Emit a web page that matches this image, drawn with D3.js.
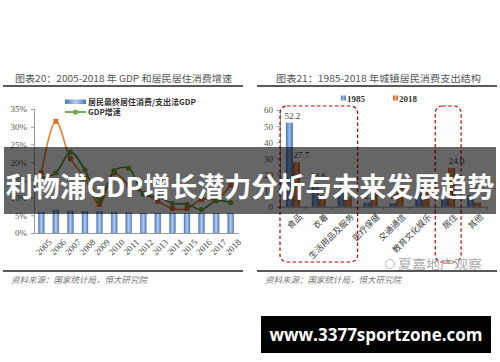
<!DOCTYPE html>
<html>
<head>
<meta charset="utf-8">
<script src="https://cdn.jsdelivr.net/npm/d3@7"></script>
<style>
  body { margin: 0; background: #fff; }
  svg { display: block; }
</style>
</head>
<body>
<div id="chart"></div>
<script>
// left chart data (图表20)
var years = ["2005","2006","2007","2008","2009","2010","2011","2012","2013","2014","2015","2016","2017","2018"];
var housingShare = [5.9, 6.5, 6.2, 6.1, 6.0, 5.9, 5.7, 5.6, 5.6, 5.6, 5.5, 5.6, 5.5, 5.6];
var housingGrowth = [17.0, 31.5, 21.0, 15.5, 8.1, 17.0, 13.6, 11.2, 9.0, 6.9, 6.9, 9.5, 9.5, 13.5];
var gdpGrowth = [15.5, 17.0, 22.8, 17.8, 9.3, 17.6, 18.3, 11.0, 10.2, 8.4, 8.1, 6.6, 9.1, 8.6];
var leftTicks = [0, 5, 10, 15, 20, 25, 30, 35];

// right chart data (图表21)
var categories = ["食品", "衣着", "生活用品及服务", "医疗保健", "交通通信", "教育文化娱乐", "居住", "其他"];
var share1985 = [52.2, 14.6, 8.6, 2.5, 2.1, 8.2, 4.8, 7.0];
var share2018 = [27.7, 6.9, 6.2, 7.8, 13.3, 11.4, 24.0, 2.6];
var rightTicks = [0, 10, 20, 30, 40, 50, 60];
var label2018 = ["食品", "居住"];
var boxedGroups = [["食品", "生活用品及服务"], ["居住", "居住"]];

var serif = "'Liberation Serif', 'DejaVu Serif', serif";
var cjk = "'Noto Sans CJK SC', sans-serif";

var svg = d3.select("#chart").append("svg")
  .attr("width", 500)
  .attr("height", 362);

var defs = svg.append("defs");
function hGrad(id, edge, mid) {
  var g = defs.append("linearGradient").attr("id", id)
    .attr("x1", "0%").attr("x2", "100%").attr("y1", "0%").attr("y2", "0%");
  g.append("stop").attr("offset", "0%").attr("stop-color", edge);
  g.append("stop").attr("offset", "50%").attr("stop-color", mid);
  g.append("stop").attr("offset", "100%").attr("stop-color", edge);
}
hGrad("gBlueL", "#4a78bd", "#b7cdee");
hGrad("gBlue", "#4572c2", "#9dbbe8");
hGrad("gOrange", "#c5642c", "#f3a46c");

// ---------- titles / rules ----------
svg.append("text")
  .attr("x", 15).attr("y", 82)
  .attr("textLength", 217).attr("lengthAdjust", "spacingAndGlyphs")
  .style("font-family", cjk).style("font-size", "9.5px").style("fill", "#555")
  .text("图表20：2005-2018 年 GDP 和居民居住消费增速");
svg.append("text")
  .attr("x", 276).attr("y", 82)
  .attr("textLength", 205).attr("lengthAdjust", "spacingAndGlyphs")
  .style("font-family", cjk).style("font-size", "9.5px").style("fill", "#555")
  .text("图表21：1985-2018 年城镇居民消费支出结构");

[[3, 243], [257, 497]].forEach(function(r) {
  svg.append("line").attr("x1", r[0]).attr("x2", r[1]).attr("y1", 86).attr("y2", 86)
    .attr("stroke", "#222").attr("stroke-width", 1.5);
  svg.append("line").attr("x1", r[0]).attr("x2", r[1]).attr("y1", 271).attr("y2", 271)
    .attr("stroke", "#222").attr("stroke-width", 1.5);
  svg.append("text").attr("x", r[0] + 8).attr("y", 283)
    .style("font-family", cjk).style("font-size", "8.5px").style("font-style", "italic")
    .style("fill", "#777")
    .text("资料来源：国家统计局，恒大研究院");
});

// ---------- left chart ----------
var xL = d3.scaleBand().domain(years).range([34, 238]);
var yL = d3.scaleLinear().domain([0, 35]).range([233, 109]);
var left = svg.append("g");

left.append("g")
  .attr("transform", "translate(34,0)")
  .call(d3.axisLeft(yL).tickValues(leftTicks).tickSize(3).tickFormat(d => d + "%"))
  .call(g => g.select(".domain").attr("stroke", "#999"))
  .call(g => g.selectAll(".tick line").attr("stroke", "#999"))
  .call(g => g.selectAll("text").attr("x", -7)
    .style("font-family", serif).style("font-size", "9px").style("fill", "#555"));

left.selectAll(".barL")
  .data(housingShare)
  .enter()
  .append("rect")
  .attr("x", (d, i) => xL(years[i]) + xL.bandwidth() / 2 - 3)
  .attr("y", d => yL(d))
  .attr("width", 6)
  .attr("height", d => yL(0) - yL(d))
  .attr("fill", "url(#gBlueL)")
  .attr("stroke", "#5b86c6").attr("stroke-width", 0.4);

left.append("g")
  .attr("transform", "translate(0,233)")
  .call(d3.axisBottom(xL).tickSize(0))
  .call(g => g.select(".domain").attr("stroke", "#999"))
  .call(g => g.selectAll("text")
    .attr("text-anchor", "end")
    .attr("transform", "translate(5,4) rotate(-45)")
    .attr("dy", "0.6em")
    .style("font-family", serif).style("font-size", "9px").style("fill", "#444"));

var lineL = d3.line()
  .x((d, i) => xL(years[i]) + xL.bandwidth() / 2)
  .y(d => yL(d))
  .curve(d3.curveCatmullRom.alpha(0.5));

left.append("path").datum(housingGrowth)
  .attr("d", lineL).attr("fill", "none")
  .attr("stroke", "#ed7d31").attr("stroke-width", 1.6);
left.selectAll(".sq").data(housingGrowth).enter().append("rect")
  .attr("x", (d, i) => xL(years[i]) + xL.bandwidth() / 2 - 2.5)
  .attr("y", d => yL(d) - 2.5)
  .attr("width", 5).attr("height", 5)
  .attr("fill", "#e0702a");

left.append("path").datum(gdpGrowth)
  .attr("d", lineL).attr("fill", "none")
  .attr("stroke", "#5f8f3a").attr("stroke-width", 1.6);
left.selectAll(".dot").data(gdpGrowth).enter().append("circle")
  .attr("cx", (d, i) => xL(years[i]) + xL.bandwidth() / 2)
  .attr("cy", d => yL(d))
  .attr("r", 2.6)
  .attr("fill", "#76a845");

// left legend
left.append("rect").attr("x", 65).attr("y", 99.5).attr("width", 21).attr("height", 4.5)
  .attr("fill", "url(#gBlueL)");
left.append("text").attr("x", 88).attr("y", 104.5)
  .style("font-family", cjk).style("font-size", "8px").style("font-weight", "bold").style("fill", "#333")
  .text("居民最终居住消费/支出法GDP");
left.append("line").attr("x1", 65).attr("x2", 86).attr("y1", 112).attr("y2", 112)
  .attr("stroke", "#5f8f3a").attr("stroke-width", 1.6);
left.append("circle").attr("cx", 75.5).attr("cy", 112).attr("r", 2.6).attr("fill", "#76a845");
left.append("text").attr("x", 88).attr("y", 115)
  .style("font-family", cjk).style("font-size", "8px").style("font-weight", "bold").style("fill", "#333")
  .text("GDP增速");

// ---------- right chart ----------
var x0 = d3.scaleBand().domain(categories).range([280, 487]);
var x1 = d3.scaleBand().domain(["1985", "2018"]).range([0, x0.bandwidth()]).paddingOuter(0.85);
var yR = d3.scaleLinear().domain([0, 60]).range([206.7, 110]);
var right = svg.append("g");

right.append("g")
  .attr("transform", "translate(280,0)")
  .call(d3.axisLeft(yR).tickValues(rightTicks).tickSize(3))
  .call(g => g.select(".domain").attr("stroke", "#999"))
  .call(g => g.selectAll(".tick line").attr("stroke", "#999"))
  .call(g => g.selectAll("text").attr("x", -7)
    .style("font-family", serif).style("font-size", "9px").style("fill", "#555"));

right.selectAll(".b85").data(share1985).enter().append("rect")
  .attr("x", (d, i) => x0(categories[i]) + x1("1985"))
  .attr("y", d => yR(d))
  .attr("width", x1.bandwidth())
  .attr("height", d => yR(0) - yR(d))
  .attr("fill", "url(#gBlue)");
right.selectAll(".b18").data(share2018).enter().append("rect")
  .attr("x", (d, i) => x0(categories[i]) + x1("2018"))
  .attr("y", d => yR(d))
  .attr("width", x1.bandwidth())
  .attr("height", d => yR(0) - yR(d))
  .attr("fill", "url(#gOrange)");

right.selectAll(".l85").data(share1985).enter().append("text")
  .attr("x", (d, i) => x0(categories[i]) + x1("1985") + x1.bandwidth() / 2 + 3)
  .attr("y", d => yR(d) - 4)
  .attr("text-anchor", "middle")
  .style("font-family", serif).style("font-size", "9px").style("fill", "#404040")
  .text(d => d.toFixed(1));

// 2018 labels only for the highlighted categories
var lab18 = categories.map((c, i) => ({ cat: c, v: share2018[i] }))
  .filter(d => label2018.indexOf(d.cat) >= 0);
right.selectAll(".l18").data(lab18).enter().append("text")
  .attr("x", d => x0(d.cat) + x1("2018") + x1.bandwidth() / 2 + 5)
  .attr("y", d => yR(d.v) - 4)
  .attr("text-anchor", "middle")
  .style("font-family", serif).style("font-size", "9px").style("fill", "#404040")
  .text(d => d.v.toFixed(1));

right.append("g")
  .attr("transform", "translate(0,206.7)")
  .call(d3.axisBottom(x0).tickSize(0))
  .call(g => g.select(".domain").attr("stroke", "#999"))
  .call(g => g.selectAll("text")
    .attr("text-anchor", "end")
    .attr("transform", "translate(4,5) rotate(-45)")
    .attr("dy", "0.6em")
    .style("font-family", cjk).style("font-size", "8.5px").style("fill", "#444"));

// category boundary ticks
right.selectAll(".ctick").data(categories).enter().append("line")
  .attr("x1", d => x0(d) + x0.bandwidth()).attr("x2", d => x0(d) + x0.bandwidth())
  .attr("y1", 206.7).attr("y2", 209.5)
  .attr("stroke", "#999");

// dashed highlight boxes
boxedGroups.forEach(function(b) {
  var bx = x0(b[0]);
  var bw = x0(b[1]) + x0.bandwidth() - bx;
  right.append("rect")
    .attr("x", bx).attr("y", 106).attr("width", bw).attr("height", 156)
    .attr("rx", 7).attr("ry", 7)
    .attr("fill", "none").attr("stroke", "#c00000")
    .attr("stroke-width", 1.2).attr("stroke-dasharray", "3.5,2.5");
});

// right legend
[["1985", "url(#gBlue)", 341], ["2018", "url(#gOrange)", 393]].forEach(function(l) {
  right.append("rect").attr("x", l[2]).attr("y", 95.5).attr("width", 5).attr("height", 5).attr("fill", l[1]);
  right.append("text").attr("x", l[2] + 6).attr("y", 101.5)
    .style("font-family", serif).style("font-size", "9px").style("font-weight", "bold").style("fill", "#333")
    .text(l[0]);
});

// watermark
svg.append("circle").attr("cx", 390).attr("cy", 264).attr("r", 4.5)
  .attr("fill", "none").attr("stroke", "#bbb").attr("stroke-width", 1);
svg.append("text").attr("x", 398).attr("y", 268.5)
  .attr("textLength", 84).attr("lengthAdjust", "spacingAndGlyphs")
  .style("font-family", cjk).style("font-size", "12px").style("fill", "#aaa")
  .text("夏嘉地产观察");

// ---------- overlay banner ----------
svg.append("rect").attr("x", 4).attr("y", 147).attr("width", 492).attr("height", 67)
  .attr("fill", "#000").attr("fill-opacity", 0.6);
svg.append("text").attr("x", 250).attr("y", 196.5).attr("text-anchor", "middle")
  .style("font-family", cjk).style("font-size", "27px").style("font-weight", "bold")
  .style("fill", "#fff")
  .text("利物浦GDP增长潜力分析与未来发展趋势");

svg.append("rect").attr("x", 261).attr("y", 316).attr("width", 230).attr("height", 37)
  .attr("fill", "#000");
svg.append("text").attr("x", 376).attr("y", 340.5).attr("text-anchor", "middle")
  .style("font-family", "'Open Sans', 'DejaVu Sans', sans-serif").style("font-size", "17px")
  .style("font-weight", "bold").style("fill", "#fff")
  .text("www.3377sportzone.com");
</script>
</body>
</html>
